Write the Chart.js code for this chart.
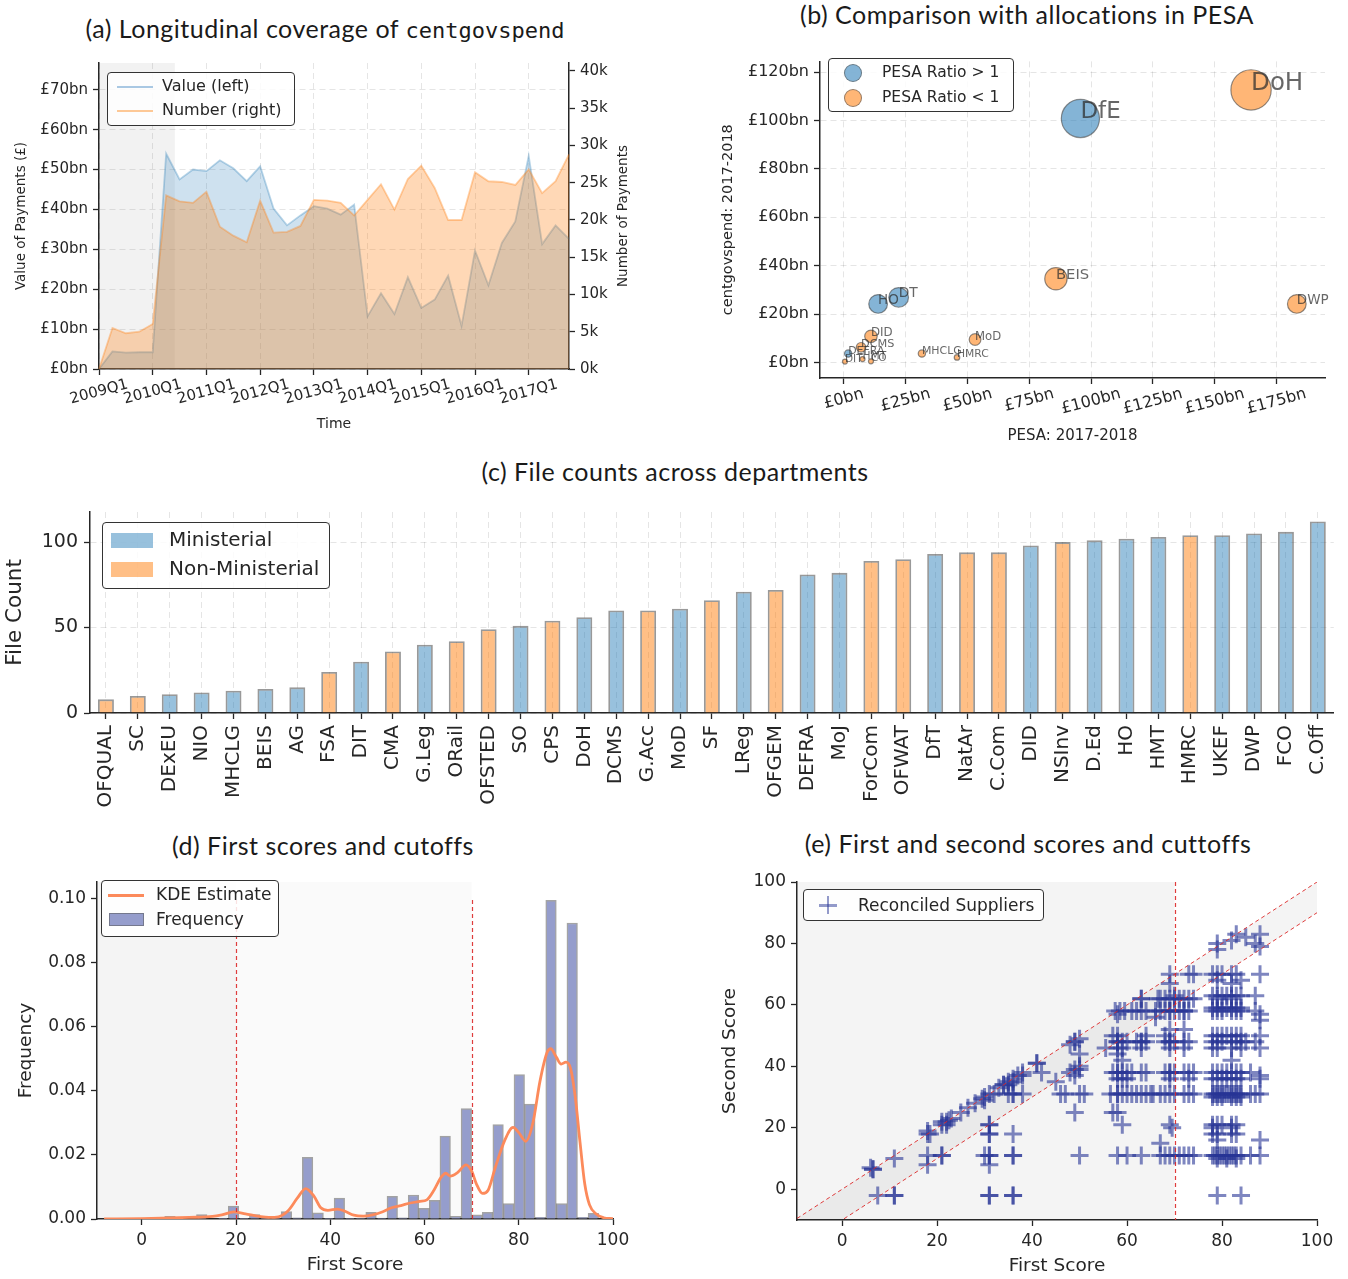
<!DOCTYPE html>
<html>
<head>
<meta charset="utf-8">
<script src="https://cdn.jsdelivr.net/npm/chart.js@4/dist/chart.umd.min.js"></script>
<style>
  body { margin: 0; background: #fff; width: 1348px; height: 1279px; position: relative; overflow: hidden;
         font-family: "DejaVu Sans", sans-serif; color: #262626; }
  .panel { position: absolute; }
  .title { position: absolute; font-family: Lato, "Open Sans", sans-serif; font-size: 25px; letter-spacing: 0.5px; color: #1a1a1a;
           transform: translate(-50%, -50%); white-space: nowrap; }
  .mono { font-family: "DejaVu Sans Mono", monospace; font-size: 22px; letter-spacing: 0; }
  .legend { position: absolute; box-sizing: border-box; border: 1.3px solid #333; border-radius: 4px;
            background: rgba(255,255,255,0.85); }
  .legend div { position: absolute; white-space: nowrap; }
</style>
</head>
<body>

<div class="title" style="left:325px; top:28px">(a) Longitudinal coverage of <span class="mono">centgovspend</span></div>
<div class="title" style="left:1027px; top:14px">(b) Comparison with allocations in PESA</div>
<div class="title" style="left:675px; top:471px">(c) File counts across departments</div>
<div class="title" style="left:323px; top:845px">(d) First scores and cutoffs</div>
<div class="title" style="left:1028px; top:843px">(e) First and second scores and cuttoffs</div>

<div class="panel" style="left:0; top:40px"><canvas id="coverage" width="640" height="400"></canvas></div>
<div class="panel" style="left:700px; top:40px"><canvas id="pesa" width="648" height="410"></canvas></div>
<div class="panel" style="left:0; top:490px"><canvas id="fileCounts" width="1348" height="330"></canvas></div>
<div class="panel" style="left:0; top:860px"><canvas id="firstScores" width="640" height="419"></canvas></div>
<div class="panel" style="left:700px; top:860px"><canvas id="secondScores" width="648" height="419"></canvas></div>

<!-- legends -->
<div class="legend" style="left:107px; top:72px; width:188px; height:54px; font-size:16px">
  <div style="left:9px; top:13px; width:36px; height:2px; background:#a9c8e3"></div>
  <div style="left:54px; top:3px">Value (left)</div>
  <div style="left:9px; top:37px; width:36px; height:2px; background:#fdc896"></div>
  <div style="left:54px; top:27px">Number (right)</div>
</div>
<div class="legend" style="left:828px; top:58px; width:186px; height:54px; font-size:15.5px">
  <div style="left:15px; top:5px; width:16px; height:16px; border-radius:50%; background:rgba(31,119,180,0.55); border:1px solid rgba(80,80,80,0.6)"></div>
  <div style="left:53px; top:4px">PESA Ratio &gt; 1</div>
  <div style="left:15px; top:30px; width:16px; height:16px; border-radius:50%; background:rgba(255,127,14,0.57); border:1px solid rgba(80,80,80,0.6)"></div>
  <div style="left:53px; top:29px">PESA Ratio &lt; 1</div>
</div>
<div class="legend" style="left:102px; top:522px; width:228px; height:67px; font-size:20px">
  <div style="left:8px; top:10px; width:42px; height:15px; background:rgba(31,119,180,0.46)"></div>
  <div style="left:66px; top:4px">Ministerial</div>
  <div style="left:8px; top:39px; width:42px; height:15px; background:rgba(255,127,14,0.5)"></div>
  <div style="left:66px; top:33px">Non-Ministerial</div>
</div>
<div class="legend" style="left:101px; top:880px; width:178px; height:57px; font-size:17px">
  <div style="left:6px; top:13px; width:36px; height:3px; background:#fc8a5b"></div>
  <div style="left:54px; top:3px">KDE Estimate</div>
  <div style="left:7px; top:32px; width:35px; height:13px; background:#959dcc; border:1px solid rgba(90,90,90,0.55); box-sizing:border-box"></div>
  <div style="left:54px; top:28px">Frequency</div>
</div>
<div class="legend" style="left:803px; top:889px; width:241px; height:32px; font-size:17px">
  <div style="left:15px; top:14px; width:18px; height:2.5px; background:rgba(40,53,150,0.5)"></div>
  <div style="left:22.8px; top:6px; width:2.5px; height:18px; background:rgba(40,53,150,0.5)"></div>
  <div style="left:54px; top:5px">Reconciled Suppliers</div>
</div>

<script>
//// DOM
const coverageElement = document.querySelector("#coverage")
const pesaElement = document.querySelector("#pesa")
const fileCountsElement = document.querySelector("#fileCounts")
const firstScoresElement = document.querySelector("#firstScores")
const secondScoresElement = document.querySelector("#secondScores")


//// data

// (a) quarterly payments
const quarters = [
    '2009Q1', '2009Q2', '2009Q3', '2009Q4', '2010Q1', '2010Q2', '2010Q3', '2010Q4',
    '2011Q1', '2011Q2', '2011Q3', '2011Q4', '2012Q1', '2012Q2', '2012Q3', '2012Q4',
    '2013Q1', '2013Q2', '2013Q3', '2013Q4', '2014Q1', '2014Q2', '2014Q3', '2014Q4',
    '2015Q1', '2015Q2', '2015Q3', '2015Q4', '2016Q1', '2016Q2', '2016Q3', '2016Q4',
    '2017Q1', '2017Q2', '2017Q3', '2017Q4'
]
// £bn
const paymentValue = [0, 4.4, 4.1, 4.2, 4.2, 54.0, 47.5, 50.0, 49.6, 52.3, 50.3, 47.1,
    50.8, 40.2, 36.0, 38.5, 40.8, 40.2, 38.7, 41.2, 13.2, 19.0, 13.8, 23.0,
    15.3, 17.4, 23.4, 10.8, 29.7, 21.0, 31.6, 37.0, 53.4, 31.3, 36.0, 32.6]
// thousands of payments
const paymentNumber = [0, 5.5, 4.8, 5.0, 6.05, 23.3, 22.5, 22.3, 23.8, 19.1, 17.9, 17.0,
    22.6, 18.3, 18.4, 19.2, 22.7, 22.6, 22.3, 20.6, 22.7, 24.8, 21.4, 25.5,
    27.3, 24.3, 20.0, 20.0, 26.4, 25.2, 25.1, 24.7, 26.8, 23.6, 25.2, 28.8]
const valueTicks = [0, 10, 20, 30, 40, 50, 60, 70]
const numberTicks = [0, 5, 10, 15, 20, 25, 30, 35, 40]
const coverageStart = 5.65   // grey block = incomplete coverage (in quarters)

// (b) PESA comparison, £bn
const pesaDepartments = ['DoH', 'DfE', 'BEIS', 'DWP', 'HO', 'DT', 'DID', 'MoD', 'MHCLG', 'HMRC', 'DCMS', 'DEFRA', 'DIT', 'HMT', 'CO']
const pesaAllocation = [164.7, 95.7, 85.8, 183.2, 13.9, 22.2, 11.0, 53.1, 31.6, 45.8, 7.0, 1.8, 0.5, 7.6, 11.0]
const centgovSpend = [112.6, 100.8, 34.6, 24.2, 24.2, 26.9, 10.8, 9.5, 3.7, 2.1, 6.3, 3.7, 0.4, 1.4, 0.5]
const pesaTicks = [0, 25, 50, 75, 100, 125, 150, 175]
const spendTicks = [0, 20, 40, 60, 80, 100, 120]

// (c) files per department
const departmentCodes = ['OFQUAL', 'SC', 'DExEU', 'NIO', 'MHCLG', 'BEIS', 'AG', 'FSA', 'DIT', 'CMA',
    'G.Leg', 'ORail', 'OFSTED', 'SO', 'CPS', 'DoH', 'DCMS', 'G.Acc', 'MoD', 'SF',
    'LReg', 'OFGEM', 'DEFRA', 'MoJ', 'ForCom', 'OFWAT', 'DfT', 'NatAr', 'C.Com', 'DID',
    'NSInv', 'D.Ed', 'HO', 'HMT', 'HMRC', 'UKEF', 'DWP', 'FCO', 'C.Off']
const fileCounts = [8, 10, 11, 12, 13, 14, 15, 24, 30, 36,
    40, 42, 49, 51, 54, 56, 60, 60, 61, 66,
    71, 72, 81, 82, 89, 90, 93, 94, 94, 98,
    100, 101, 102, 103, 104, 104, 105, 106, 112]
const ministerial = [false, false, true, true, true, true, true, false, true, false,
    true, false, false, true, false, true, true, false, true, false,
    true, false, true, true, false, false, true, false, false, true,
    false, true, true, true, false, true, true, true, true]
const countTicks = [0, 50, 100]

// (d) first score histogram + kde
const binCenters = [-0.75, 1.50, 3.74, 5.99, 8.24, 10.48, 12.73, 14.97, 17.22, 19.47,
    21.71, 23.96, 26.20, 28.45, 30.70, 32.94, 35.19, 37.43, 39.68, 41.93,
    44.17, 46.42, 48.66, 50.91, 53.16, 55.40, 57.65, 59.89, 62.14, 64.39,
    66.63, 68.88, 71.12, 73.37, 75.62, 77.86, 80.11, 82.35, 84.60, 86.85,
    89.09, 91.34, 93.58, 95.83]
const binFrequency = [0, 0, 0, 0.0008, 0, 0, 0.0014, 0, 0.0002, 0.0040,
    0.0002, 0.0014, 0.0002, 0.0003, 0.0023, 0.0004, 0.0193, 0.0019, 0.0002, 0.0065,
    0.0002, 0.0003, 0.0021, 0.0003, 0.0071, 0.0004, 0.0075, 0.0033, 0.0058, 0.0259,
    0.0008, 0.0345, 0.0013, 0.0021, 0.0295, 0.0048, 0.0451, 0.0359, 0.0005, 0.0996,
    0.0048, 0.0925, 0.0005, 0.0018]
const kdeScore = [-8, 0, 10, 15, 17, 19.5, 22, 25, 27, 29, 31, 33, 34.8, 36.5, 38, 39.5, 41.5, 43, 45, 47,
    49, 51, 53, 55, 57, 59, 60.5, 62, 63.5, 64.5, 65.5, 67, 68.8, 70, 71, 72.3, 73.5, 75, 77, 78.8,
    80, 81.5, 83, 84.5, 86, 86.8, 88, 89, 90, 91, 92, 93, 94, 95, 96.5, 98, 100]
const kdeDensity = [0, 0.0001, 0.0005, 0.0008, 0.0013, 0.0022, 0.0016, 0.0008, 0.0005, 0.0007,
    0.0025, 0.0065, 0.0095, 0.0072, 0.0035, 0.0027, 0.0031, 0.0025, 0.0012, 0.0009,
    0.0013, 0.0022, 0.0035, 0.0042, 0.0050, 0.0055, 0.0060, 0.0090, 0.0130, 0.0143,
    0.0134, 0.0145, 0.0169, 0.0150, 0.0110, 0.0080, 0.0090, 0.0160, 0.0245, 0.0286,
    0.0270, 0.0243, 0.0300, 0.0430, 0.0520, 0.0532, 0.0505, 0.0484, 0.0490, 0.0470,
    0.0380, 0.0240, 0.0110, 0.0045, 0.0015, 0.0004, 0.0001]
const freqTicks = [0, 0.02, 0.04, 0.06, 0.08, 0.10]
const scoreTicks = [0, 20, 40, 60, 80, 100]
const scoreCutoffs = [20, 70]

// (e) first vs second score of reconciled suppliers
const supplierScores = [
    // along the diagonal
    [6.5, 6.5], [6.5, 6.5], [6, 7], [7.5, -2], [11, -2], [11, -2], [11, 10],
    [18, 18], [18, 19], [18.5, 18], [18, 11], [18, 8], [21, 11], [21, 11],
    [21, 21], [22, 22], [22, 21], [23, 23], [22.5, 22.5], [21, 22],
    [25, 25], [26.5, 26.5], [28, 28], [29.5, 29.5], [30, 30], [30, 29], [31, 31], [32, 31],
    [31, 21], [31, 21], [31, 18], [31, 18], [30, 11], [31, 11], [31, 11], [31, 8],
    [31, -2], [31, -2], [36, -2], [36, -2], [36, 11], [36, 11], [36, 18],
    [33, 33], [34, 34], [34, 34], [35, 35], [35, 34], [36, 36], [36, 35], [37, 37], [38, 38], [38, 37],
    [35, 31], [36, 31], [36, 31], [38, 31], [41, 41], [41, 41], [42, 38],
    [45, 35], [46, 31], [47, 31], [48, 38], [49, 37], [49, 39], [50, 39], [50, 40],
    [48, 47], [49, 48], [49, 48], [50, 49], [50, 44], [49, 25], [50, 11], [50, 31], [51, 31],
    // 55 - 66
    [57.5, 58], [58.5, 58], [59.5, 58], [61, 58], [62, 58], [63, 58], [64, 58], [58, 57], [63, 62], [63, 62],
    [57, 50], [58, 50], [58, 48], [59, 48], [60, 48], [62, 48], [63, 48], [64, 48], [58, 48], [63, 48],
    [55.5, 46], [58, 46], [59, 46], [58, 44], [59, 42], [63, 46], [64, 50],
    [57, 38], [58, 38], [58, 38], [59, 38], [60, 38], [61, 38], [63, 38], [64, 38], [58, 36], [59, 36], [60, 36],
    [56.5, 31], [58, 31], [58, 31], [59, 31], [60, 31], [61, 31], [62, 31], [63, 31], [64, 31], [65.5, 31],
    [57, 25], [58, 25], [59, 21], [58, 11], [60, 11], [63, 11],
    // 66 - 74
    [66.5, 62], [67, 62], [68, 62], [69, 62], [70, 63], [71, 62], [72, 62], [73, 62], [74, 62], [70, 62],
    [66, 58], [67, 58], [68, 58], [69, 58], [70, 58], [71, 58], [72, 58], [73, 58], [69, 58], [72, 58],
    [69, 67], [69, 70], [73, 70], [74, 70], [66, 56],
    [68, 50], [68, 48], [69, 48], [70, 48], [72, 48], [73, 48], [69, 48], [69, 46], [72, 46], [69, 52], [72, 52],
    [68, 38], [69, 38], [70, 38], [72, 38], [73, 38], [74, 38], [69, 36], [73, 36], [69, 38],
    [65, 31], [67, 31], [68, 31], [69, 31], [70, 31], [72, 31], [73, 31], [74, 31],
    [69, 21], [69.5, 20], [67, 15],
    [67, 11], [68, 11], [69, 11], [70, 11], [71, 11], [72, 11], [73, 11], [74, 11],
    // 78 - 89
    [79, 80], [79, 78], [82, 81], [83, 83], [85, 82], [88, 83], [88, 79], [87, 80],
    [78, 70], [79, 70], [80, 70], [82, 70], [83, 70], [84, 68], [88, 70], [79, 68], [82, 67],
    [78, 63], [79, 63], [80, 63], [81, 63], [82, 63], [83, 63], [84, 63], [87, 63], [79, 62], [82, 62],
    [78, 59], [79, 59], [80, 59], [81, 59], [82, 59], [83, 58], [84, 58], [87, 58], [88, 57],
    [78, 58], [79, 58], [80, 58], [82, 58], [83, 59], [84, 59], [88, 55],
    [78, 50], [79, 50], [80, 50], [81, 50], [82, 50], [83, 50], [84, 50], [88, 50],
    [78, 48], [79, 48], [80, 48], [82, 48], [83, 48], [84, 48], [85, 48], [87, 48],
    [78, 46], [79, 46], [82, 46], [84, 46], [88, 46], [82, 42],
    [78, 38], [79, 38], [80, 38], [81, 38], [82, 38], [83, 38], [84, 38], [86, 38], [88, 37],
    [78, 36], [79, 36], [80, 36], [81, 36], [82, 36], [83, 36], [84, 36], [88, 36],
    [78, 31], [78.5, 31], [79, 31], [79.5, 31], [80, 31], [80.5, 31], [81, 31], [81.5, 31], [82, 31],
    [82.5, 31], [83, 31], [83.5, 31], [84, 31], [86, 31], [87, 31], [88, 31],
    [78, 30], [79, 30], [80, 30], [82, 30], [83, 30], [84, 30],
    [78, 21], [79, 21], [80, 21], [82, 21], [83, 21], [78, 20], [82, 20],
    [78, 18], [79, 18], [82, 18], [83, 18], [88, 16], [79, 16],
    [78, 11], [78.5, 11], [79, 11], [79.5, 11], [80, 11], [80.5, 11], [81, 11], [81.5, 11], [82, 11],
    [82.5, 11], [83, 11], [84, 11], [86, 11], [88, 11], [79, 10], [81, 10], [83, 10],
    [79, -2], [84, -2]
]
const secondTicks = [0, 20, 40, 60, 80, 100]
const bandWidth = 10


//// helpers
Chart.defaults.font.family = '"DejaVu Sans", sans-serif'
Chart.defaults.color = '#262626'
Chart.defaults.animation = false

const gridColor = 'rgba(0,0,0,0.1)'
const axisColor = '#262626'
const cutoffColor = 'rgba(220,40,40,0.9)'

function useTicks(values) {
    return scale => { scale.ticks = values.map(v => ({ value: v })) }
}

// matplotlib style rotated (15 deg) centred tick labels
function slantedLabels(size) {
    return {
        id: 'slantedLabels',
        afterDraw(chart) {
            const scale = chart.scales.x
            const ctx = chart.ctx
            const angle = 15 * Math.PI / 180
            ctx.save()
            ctx.font = size + 'px "DejaVu Sans"'
            ctx.fillStyle = axisColor
            ctx.textAlign = 'center'
            ctx.textBaseline = 'middle'
            scale.ticks.forEach((tick, i) => {
                const w = ctx.measureText(tick.label).width
                const boxH = w * Math.sin(angle) + size * Math.cos(angle)
                ctx.save()
                ctx.translate(scale.getPixelForTick(i), scale.top + 8 + boxH / 2)
                ctx.rotate(-angle)
                ctx.fillText(tick.label, 0, 0)
                ctx.restore()
            })
            ctx.restore()
        }
    }
}

function axis(extra) {
    return Object.assign({
        grid: { color: gridColor, tickColor: axisColor, tickLength: 6, tickWidth: 1.3 },
        border: { color: axisColor, width: 1.5, dash: [6, 4] },
        ticks: { padding: 5 }
    }, extra)
}

// crisp vertical line position
function crisp(px) {
    return Math.round(px) + 0.5
}


//// charts

// (a)
const coverageShade = {
    id: 'coverageShade',
    beforeDraw(chart) {
        const { ctx, chartArea: a, scales: { x } } = chart
        ctx.save()
        ctx.fillStyle = 'rgba(0,0,0,0.05)'
        ctx.fillRect(a.left, a.top, x.getPixelForValue(coverageStart) - a.left, a.bottom - a.top)
        ctx.restore()
    },
    // right axis title reads bottom-to-top like matplotlib
    afterDraw(chart) {
        const { ctx, chartArea: a } = chart
        ctx.save()
        ctx.font = '13.5px "DejaVu Sans"'
        ctx.fillStyle = axisColor
        ctx.textAlign = 'center'
        ctx.textBaseline = 'middle'
        ctx.translate(623, (a.top + a.bottom) / 2)
        ctx.rotate(-Math.PI / 2)
        ctx.fillText('Number of Payments', 0, 0)
        ctx.restore()
    }
}

let coverageChart = new Chart(coverageElement, {
    type: 'line',
    data: {
        labels: quarters,
        datasets: [
            {
                label: 'Number (right)',
                data: paymentNumber,
                yAxisID: 'y1',
                borderColor: 'rgba(255,127,14,0.35)',
                backgroundColor: 'rgba(255,127,14,0.3)',
                borderWidth: 1.8,
                fill: 'origin',
                pointRadius: 0,
                tension: 0,
                order: 0
            },
            {
                label: 'Value (left)',
                data: paymentValue,
                yAxisID: 'y',
                borderColor: 'rgba(31,119,180,0.3)',
                backgroundColor: 'rgba(31,119,180,0.22)',
                borderWidth: 1.8,
                fill: 'origin',
                pointRadius: 0,
                tension: 0,
                order: 1
            }
        ]
    },
    options: {
        responsive: false,
        layout: { padding: { top: 23 } },
        plugins: { legend: { display: false }, tooltip: { enabled: false } },
        scales: {
            x: axis({
                offset: false,
                ticks: { display: false },
                afterBuildTicks: scale => { scale.ticks = scale.ticks.filter(t => t.value % 4 === 0) },
                afterFit: scale => { scale.height = 71 },
                title: { display: true, text: 'Time', font: { size: 14 }, padding: { bottom: 7.6 } }
            }),
            y: axis({
                position: 'left', min: 0, max: 76.7,
                afterBuildTicks: useTicks(valueTicks),
                ticks: { padding: 5, font: { size: 15 }, callback: v => '£' + v + 'bn' },
                afterFit: scale => { scale.width = 99 },
                title: { display: true, text: 'Value of Payments (£)', font: { size: 13.5 }, padding: { top: 13.6 } }
            }),
            y1: axis({
                position: 'right', min: 0, max: 41.07,
                grid: { drawOnChartArea: false, tickColor: axisColor, tickLength: 6, tickWidth: 1.3 },
                afterBuildTicks: useTicks(numberTicks),
                ticks: { padding: 5, font: { size: 15 }, callback: v => v + 'k' },
                afterFit: scale => { scale.width = 71 }
            })
        }
    },
    plugins: [coverageShade, slantedLabels(15)]
})


// (b)
const bubbleLabels = {
    id: 'bubbleLabels',
    afterDatasetsDraw(chart) {
        const ctx = chart.ctx
        ctx.save()
        ctx.fillStyle = 'rgba(45,45,45,0.72)'
        ctx.textAlign = 'left'
        ctx.textBaseline = 'alphabetic'
        chart.data.datasets.forEach((ds, d) => {
            chart.getDatasetMeta(d).data.forEach((pt, i) => {
                const item = ds.data[i]
                ctx.font = (10.5 + 0.124 * item.y) + 'px "DejaVu Sans"'
                ctx.fillText(item.name, pt.x, pt.y)
            })
        })
        ctx.restore()
    }
}

function pesaPoints(overspend) {
    return pesaDepartments
        .map((name, i) => ({ name, x: pesaAllocation[i], y: centgovSpend[i], r: Math.max(2.5, 1.9 * Math.sqrt(centgovSpend[i])) }))
        .filter(p => (p.y / p.x > 1) === overspend)
}

let pesaChart = new Chart(pesaElement, {
    type: 'bubble',
    data: {
        datasets: [
            {
                label: 'PESA Ratio > 1',
                data: pesaPoints(true),
                backgroundColor: 'rgba(31,119,180,0.55)',
                borderColor: 'rgba(70,70,70,0.6)',
                borderWidth: 1.2
            },
            {
                label: 'PESA Ratio < 1',
                data: pesaPoints(false),
                backgroundColor: 'rgba(255,127,14,0.57)',
                borderColor: 'rgba(70,70,70,0.6)',
                borderWidth: 1.2
            }
        ]
    },
    options: {
        responsive: false,
        layout: { padding: { top: 12, right: 23 } },
        plugins: { legend: { display: false }, tooltip: { enabled: false } },
        scales: {
            x: axis({
                type: 'linear', min: -9.6, max: 194.6,
                afterBuildTicks: useTicks(pesaTicks),
                ticks: { display: false, callback: v => '£' + v + 'bn' },
                afterFit: scale => { scale.height = 72 },
                title: { display: true, text: 'PESA: 2017-2018', font: { size: 15 }, padding: { bottom: 5 } }
            }),
            y: axis({
                min: -6.4, max: 124.4,
                afterBuildTicks: useTicks(spendTicks),
                ticks: { padding: 5, font: { size: 16 }, callback: v => '£' + v + 'bn' },
                afterFit: scale => { scale.width = 120 },
                title: { display: true, text: 'centgovspend: 2017-2018', font: { size: 14.5 }, padding: { top: 20 } }
            })
        }
    },
    plugins: [bubbleLabels, slantedLabels(16)]
})


// (c)
let fileCountsChart = new Chart(fileCountsElement, {
    type: 'bar',
    data: {
        labels: departmentCodes,
        datasets: [
            {
                label: 'File Count',
                data: fileCounts,
                backgroundColor: ministerial.map(m => m ? 'rgba(31,119,180,0.46)' : 'rgba(255,127,14,0.5)'),
                borderColor: 'rgba(70,70,70,0.55)',
                borderWidth: 1.8,
                borderSkipped: 'bottom',
                barPercentage: 0.5,
                categoryPercentage: 1
            }
        ]
    },
    options: {
        responsive: false,
        layout: { padding: { top: 22, right: 12 } },
        plugins: { legend: { display: false }, tooltip: { enabled: false } },
        scales: {
            x: axis({
                grid: { offset: false, color: gridColor, tickColor: axisColor, tickLength: 6, tickWidth: 1.3 },
                ticks: { autoSkip: false, minRotation: 90, maxRotation: 90, padding: 6, font: { size: 20 } },
                afterFit: scale => { scale.height = 107 }
            }),
            y: axis({
                min: 0, max: 117.6,
                afterBuildTicks: useTicks(countTicks),
                ticks: { padding: 6, font: { size: 19 } },
                afterFit: scale => { scale.width = 90 },
                title: { display: true, text: 'File Count', font: { size: 21.5 }, padding: { top: 2.8 } }
            })
        }
    }
})


// (d)
const scoreZones = {
    id: 'scoreZones',
    beforeDraw(chart) {
        const { ctx, chartArea: a, scales: { x } } = chart
        const lo = x.getPixelForValue(scoreCutoffs[0])
        const hi = x.getPixelForValue(scoreCutoffs[1])
        ctx.save()
        ctx.fillStyle = 'rgba(0,0,0,0.045)'
        ctx.fillRect(a.left, a.top, lo - a.left, a.bottom - a.top)
        ctx.fillStyle = 'rgba(0,0,0,0.02)'
        ctx.fillRect(lo, a.top, hi - lo, a.bottom - a.top)
        ctx.restore()
    },
    afterDatasetsDraw(chart) {
        const { ctx, scales: { x, y } } = chart
        ctx.save()
        ctx.strokeStyle = cutoffColor
        ctx.lineWidth = 1.2
        ctx.setLineDash([4, 3])
        scoreCutoffs.forEach(c => {
            const px = crisp(x.getPixelForValue(c))
            ctx.beginPath()
            ctx.moveTo(px, y.getPixelForValue(0))
            ctx.lineTo(px, y.getPixelForValue(0.1))
            ctx.stroke()
        })
        ctx.restore()
    }
}

let firstScoresChart = new Chart(firstScoresElement, {
    type: 'bar',
    data: {
        datasets: [
            {
                type: 'line',
                label: 'KDE Estimate',
                data: kdeScore.map((s, i) => ({ x: s, y: kdeDensity[i] })),
                borderColor: '#fc8a5b',
                borderWidth: 2.8,
                pointRadius: 0,
                cubicInterpolationMode: 'monotone',
                order: 0
            },
            {
                type: 'bar',
                label: 'Frequency',
                data: binCenters.map((c, i) => ({ x: c, y: binFrequency[i] })),
                backgroundColor: '#959dcc',
                borderColor: 'rgba(90,90,90,0.55)',
                borderWidth: 1.5,
                barPercentage: 1,
                categoryPercentage: 1,
                order: 1
            }
        ]
    },
    options: {
        responsive: false,
        layout: { padding: { top: 22, right: 27 } },
        plugins: { legend: { display: false }, tooltip: { enabled: false } },
        scales: {
            x: axis({
                type: 'linear', offset: false, min: -9.5, max: 100,
                grid: { drawOnChartArea: false, offset: false, tickColor: axisColor, tickLength: 6, tickWidth: 1.3 },
                afterBuildTicks: useTicks(scoreTicks),
                ticks: { padding: 5, font: { size: 17 } },
                afterFit: scale => { scale.height = 60 },
                title: { display: true, text: 'First Score', font: { size: 18.5 }, padding: { bottom: 2.6 } }
            }),
            y: axis({
                min: 0, max: 0.1053,
                grid: { drawOnChartArea: false, tickColor: axisColor, tickLength: 6, tickWidth: 1.3 },
                afterBuildTicks: useTicks(freqTicks),
                ticks: { padding: 5, font: { size: 17 }, callback: v => v.toFixed(2) },
                afterFit: scale => { scale.width = 97 },
                title: { display: true, text: 'Frequency', font: { size: 18.5 }, padding: { top: 14.6 } }
            })
        }
    },
    plugins: [scoreZones]
})


// (e)
const matchBand = {
    id: 'matchBand',
    beforeDraw(chart) {
        const { ctx, chartArea: a, scales: { x, y } } = chart
        ctx.save()
        ctx.beginPath()
        ctx.rect(a.left, a.top, a.right - a.left, a.bottom - a.top)
        ctx.clip()
        ctx.fillStyle = 'rgba(0,0,0,0.045)'
        ctx.fillRect(a.left, a.top, x.getPixelForValue(scoreCutoffs[1]) - a.left, a.bottom - a.top)
        ctx.beginPath()
        ctx.moveTo(x.getPixelForValue(x.min), y.getPixelForValue(x.min))
        ctx.lineTo(x.getPixelForValue(x.max), y.getPixelForValue(x.max))
        ctx.lineTo(x.getPixelForValue(x.max), y.getPixelForValue(x.max - bandWidth))
        ctx.lineTo(x.getPixelForValue(x.min), y.getPixelForValue(x.min - bandWidth))
        ctx.closePath()
        ctx.fill()
        ctx.restore()
    },
    afterDatasetsDraw(chart) {
        const { ctx, chartArea: a, scales: { x, y } } = chart
        ctx.save()
        ctx.beginPath()
        ctx.rect(a.left, a.top, a.right - a.left, a.bottom - a.top)
        ctx.clip()
        ctx.strokeStyle = cutoffColor
        ctx.setLineDash([4, 3])
        // diagonal band edges
        ctx.lineWidth = 1
        ctx.beginPath()
        ctx.moveTo(x.getPixelForValue(x.min), y.getPixelForValue(x.min))
        ctx.lineTo(x.getPixelForValue(x.max), y.getPixelForValue(x.max))
        ctx.moveTo(x.getPixelForValue(x.min), y.getPixelForValue(x.min - bandWidth))
        ctx.lineTo(x.getPixelForValue(x.max), y.getPixelForValue(x.max - bandWidth))
        ctx.stroke()
        // first score cutoff
        ctx.lineWidth = 1.2
        const cut = crisp(x.getPixelForValue(scoreCutoffs[1]))
        ctx.beginPath()
        ctx.moveTo(cut, a.top)
        ctx.lineTo(cut, a.bottom)
        ctx.stroke()
        ctx.restore()
    }
}

let secondScoresChart = new Chart(secondScoresElement, {
    type: 'scatter',
    data: {
        datasets: [
            {
                label: 'Reconciled Suppliers',
                data: supplierScores.map(p => ({ x: p[0], y: p[1] })),
                pointStyle: 'cross',
                pointRadius: 9,
                borderWidth: 3,
                borderColor: 'rgba(40,53,150,0.6)',
                backgroundColor: 'rgba(40,53,150,0.6)'
            }
        ]
    },
    options: {
        responsive: false,
        layout: { padding: { top: 22, right: 31 } },
        plugins: { legend: { display: false }, tooltip: { enabled: false } },
        scales: {
            x: axis({
                min: -9.5, max: 100,
                grid: { drawOnChartArea: false, tickColor: axisColor, tickLength: 6, tickWidth: 1.3 },
                afterBuildTicks: useTicks(scoreTicks),
                ticks: { padding: 5, font: { size: 17 } },
                afterFit: scale => { scale.height = 59 },
                title: { display: true, text: 'First Score', font: { size: 18.5 }, padding: { bottom: 1.6 } }
            }),
            y: axis({
                min: -10, max: 100,
                grid: { drawOnChartArea: false, tickColor: axisColor, tickLength: 6, tickWidth: 1.3 },
                afterBuildTicks: useTicks(secondTicks),
                ticks: { padding: 5, font: { size: 17 } },
                afterFit: scale => { scale.width = 97 },
                title: { display: true, text: 'Second Score', font: { size: 18.5 }, padding: { top: 18.6 } }
            })
        }
    },
    plugins: [matchBand]
})
</script>
</body>
</html>
